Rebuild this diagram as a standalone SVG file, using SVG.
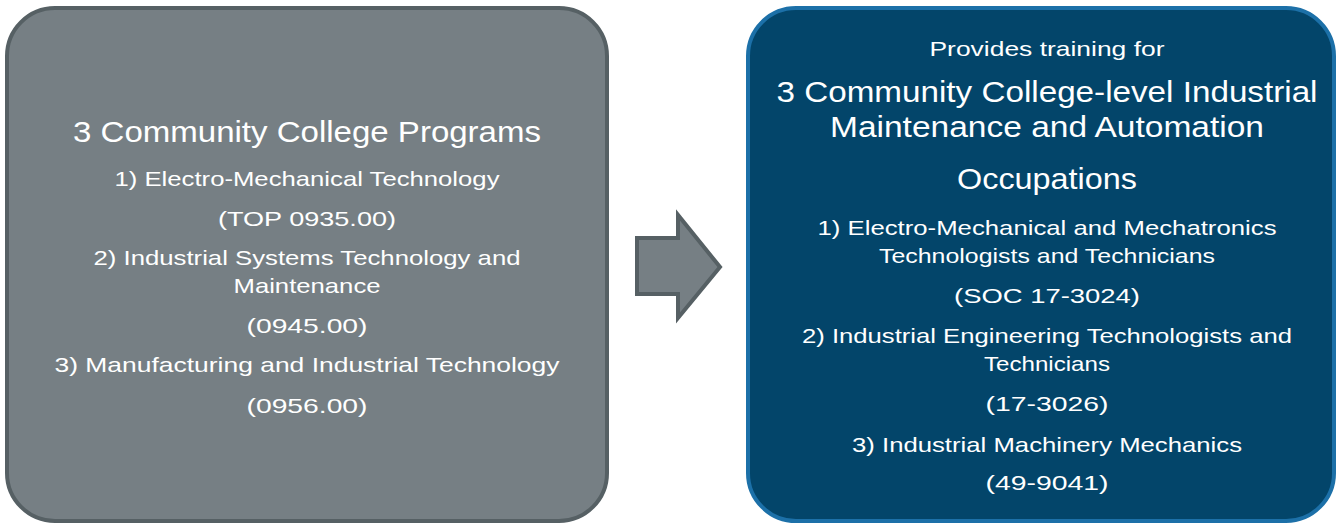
<svg xmlns="http://www.w3.org/2000/svg" width="1338" height="524" viewBox="0 0 1338 524">
<style>
text{font-family:"Liberation Sans",Arial,sans-serif;fill:#ffffff;text-anchor:middle}
.h{font-size:30px}
.t{font-size:21px}
</style>
<rect width="1338" height="524" fill="#ffffff"/>
<g id="programs">
<rect x="7" y="8" width="600" height="513" rx="48" ry="48" fill="#767f84" stroke="#566064" stroke-width="4"/>
<text class="h" x="307" y="142" textLength="468" lengthAdjust="spacingAndGlyphs">3 Community College Programs</text>
<text class="t" x="307" y="186" textLength="385" lengthAdjust="spacingAndGlyphs">1) Electro-Mechanical Technology</text>
<text class="t" x="307" y="226" textLength="178" lengthAdjust="spacingAndGlyphs">(TOP 0935.00)</text>
<text class="t" x="307" y="265" textLength="427" lengthAdjust="spacingAndGlyphs">2) Industrial Systems Technology and</text>
<text class="t" x="307" y="293" textLength="147" lengthAdjust="spacingAndGlyphs">Maintenance</text>
<text class="t" x="307" y="333" textLength="121" lengthAdjust="spacingAndGlyphs">(0945.00)</text>
<text class="t" x="307" y="372" textLength="505" lengthAdjust="spacingAndGlyphs">3) Manufacturing and Industrial Technology</text>
<text class="t" x="307" y="413" textLength="121" lengthAdjust="spacingAndGlyphs">(0956.00)</text>
</g>
<g id="connectors">
<path d="M637,238 L678,238 L678,215 L720,267 L678,318 L678,294 L637,294 Z" fill="#767f84" stroke="#566064" stroke-width="4" stroke-linejoin="miter"/>
</g>
<g id="occupations">
<rect x="748" y="8" width="586" height="513" rx="48" ry="48" fill="#03456a" stroke="#1c70a8" stroke-width="4"/>
<text class="t" x="1047" y="56" textLength="235" lengthAdjust="spacingAndGlyphs">Provides training for</text>
<text class="h" x="1047" y="102" textLength="541" lengthAdjust="spacingAndGlyphs">3 Community College-level Industrial</text>
<text class="h" x="1047" y="137" textLength="434" lengthAdjust="spacingAndGlyphs">Maintenance and Automation</text>
<text class="h" x="1047" y="189" textLength="180" lengthAdjust="spacingAndGlyphs">Occupations</text>
<text class="t" x="1047" y="235" textLength="459" lengthAdjust="spacingAndGlyphs">1) Electro-Mechanical and Mechatronics</text>
<text class="t" x="1047" y="263" textLength="336" lengthAdjust="spacingAndGlyphs">Technologists and Technicians</text>
<text class="t" x="1047" y="303" textLength="186" lengthAdjust="spacingAndGlyphs">(SOC 17-3024)</text>
<text class="t" x="1047" y="343" textLength="490" lengthAdjust="spacingAndGlyphs">2) Industrial Engineering Technologists and</text>
<text class="t" x="1047" y="371" textLength="126" lengthAdjust="spacingAndGlyphs">Technicians</text>
<text class="t" x="1047" y="411" textLength="123" lengthAdjust="spacingAndGlyphs">(17-3026)</text>
<text class="t" x="1047" y="452" textLength="390" lengthAdjust="spacingAndGlyphs">3) Industrial Machinery Mechanics</text>
<text class="t" x="1047" y="490" textLength="123" lengthAdjust="spacingAndGlyphs">(49-9041)</text>
</g>
</svg>
